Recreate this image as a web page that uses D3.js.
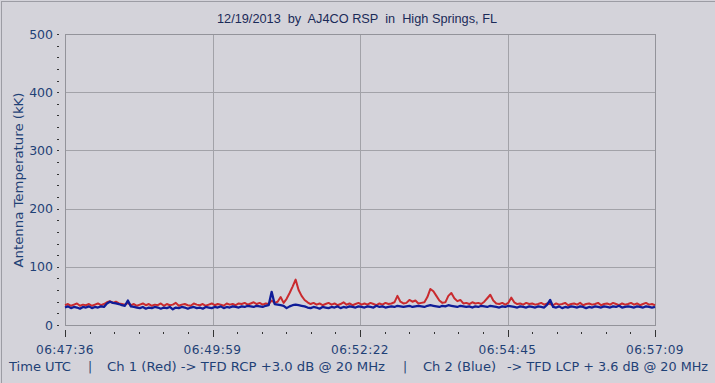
<!DOCTYPE html>
<html>
<head>
<meta charset="utf-8">
<script src="https://cdn.jsdelivr.net/npm/d3@7"></script>
<style>
  html, body { margin: 0; padding: 0; background: #d4d3da; }
  svg { display: block; }
</style>
</head>
<body>
<svg id="chart" width="715" height="383"></svg>
<script>
// ---- data ----
const title = "12/19/2013  by  AJ4CO RSP  in  High Springs, FL";
const yLabel = "Antenna Temperature (kK)";
const xTickLabels = ["06:47:36", "06:49:59", "06:52:22", "06:54:45", "06:57:09"];
const yTickValues = [0, 100, 200, 300, 400, 500];
const startTime = "06:47:36";
const endTime = "06:57:09";
const footer = ["Time UTC", "|", "Ch 1 (Red) -> TFD RCP +3.0 dB @ 20 MHz", "|", "Ch 2 (Blue)", "-> TFD LCP + 3.6 dB @ 20 MHz"];

const redValues = [
  34,36,33,35,37,33,35,34,36,33,
  35,37,34,36,39,41,38,40,37,36,
  35,38,34,36,33,35,37,34,36,33,
  35,34,37,33,36,34,35,38,33,35,
  36,34,33,37,35,34,36,33,35,37,
  34,36,35,33,37,35,36,34,37,36,
  38,35,37,39,36,38,35,37,36,42,
  38,40,48,38,45,55,66,78,60,50,
  43,39,36,38,35,37,34,36,38,35,
  37,34,36,39,35,37,34,36,38,35,
  37,35,38,36,34,37,35,38,36,37,
  39,50,40,37,38,43,40,42,37,38,
  39,48,62,58,50,42,38,39,50,55,
  46,41,43,37,38,36,39,37,38,36,
  40,46,52,42,37,36,38,35,38,47,
  39,36,37,35,38,36,37,35,36,38,
  35,37,36,34,37,35,36,38,34,36,
  37,35,38,34,36,37,35,36,38,34,
  36,37,35,38,36,34,37,35,36,38,
  35,37,34,36,38,35,36,34
];
const blueValues = [
  30,32,29,31,30,28,31,30,32,29,
  31,30,32,31,37,40,38,37,36,34,
  33,42,32,31,30,29,31,28,30,29,
  31,30,28,30,29,31,27,30,29,31,
  30,28,30,31,29,30,28,31,30,29,
  31,30,32,29,31,30,32,31,30,32,
  31,33,32,31,33,32,31,33,34,57,
  36,35,34,33,29,32,34,35,34,33,
  32,30,29,31,30,28,31,30,29,31,
  30,32,29,31,30,32,31,30,32,31,
  30,32,31,30,33,31,32,30,31,32,
  31,33,32,31,32,33,31,32,33,32,
  31,33,34,33,32,31,33,32,34,33,
  32,31,33,32,31,32,30,32,31,33,
  32,31,33,32,31,30,32,31,33,32,
  31,30,32,31,30,32,31,30,32,31,
  30,35,43,31,30,32,29,31,30,32,
  31,30,32,31,29,31,30,32,31,30,
  32,31,30,32,31,33,30,31,32,31,
  30,32,31,30,32,31,30,31
];

// ---- layout ----
const svg = d3.select("#chart");
const W = 715, H = 383;
const m = { left: 65, right: 655, top: 34, bottom: 325 };

const parse = d3.timeParse("%H:%M:%S");
const t0 = parse(startTime), t1 = parse(endTime);
const n = redValues.length;
const times = d3.range(n).map(i => new Date(+t0 + (t1 - t0) * i / (n - 1)));

const x = d3.scaleTime().domain([t0, t1]).range([m.left, m.right]);
const y = d3.scaleLinear().domain([0, 500]).range([m.bottom, m.top]);

// outer frame
svg.append("rect").attr("x", 0).attr("y", 0).attr("width", W).attr("height", H).attr("fill", "#d4d3da");
svg.append("line").attr("x1", 1.5).attr("x2", 1.5).attr("y1", 1).attr("y2", H).attr("stroke", "#9c9ca4");
svg.append("line").attr("x1", 1).attr("x2", W).attr("y1", 1.5).attr("y2", 1.5).attr("stroke", "#9c9ca4");

// gridlines
const xMajor = d3.range(5).map(i => new Date(+t0 + (t1 - t0) * i / 4));
const gridColor = "#a2a2a8";
svg.append("g").selectAll("line").data(xMajor.slice(1, 4)).join("line")
  .attr("x1", d => Math.round(x(d)) + 0.5).attr("x2", d => Math.round(x(d)) + 0.5)
  .attr("y1", m.top).attr("y2", m.bottom).attr("stroke", gridColor);
svg.append("g").selectAll("line").data([100, 200, 300, 400]).join("line")
  .attr("x1", m.left).attr("x2", m.right)
  .attr("y1", d => Math.round(y(d)) + 0.5).attr("y2", d => Math.round(y(d)) + 0.5).attr("stroke", gridColor);

// plot border
svg.append("rect").attr("x", m.left + 0.5).attr("y", m.top + 0.5)
  .attr("width", m.right - m.left).attr("height", m.bottom - m.top)
  .attr("fill", "none").attr("stroke", "#93939a");

// series
const line = vals => d3.line().x((d, i) => x(times[i])).y(d => y(d))(vals);
svg.append("path").attr("d", line(redValues)).attr("fill", "none")
  .attr("stroke", "#c92a2e").attr("stroke-width", 2).attr("stroke-linejoin", "round");
svg.append("path").attr("d", line(blueValues)).attr("fill", "none")
  .attr("stroke", "#0f1c98").attr("stroke-width", 2.3).attr("stroke-linejoin", "round");

// y axis ticks & labels
const textColor = "#1f4176";
const yMinor = d3.range(0, 501, 20);
svg.append("g").selectAll("line").data(yMinor).join("line")
  .attr("x1", 57).attr("x2", 59)
  .attr("y1", d => Math.round(y(d)) + 0.5).attr("y2", d => Math.round(y(d)) + 0.5)
  .attr("stroke", "#333");
svg.append("g").selectAll("text").data(yTickValues).join("text")
  .attr("x", 53).attr("y", d => y(d) + 4.5)
  .attr("text-anchor", "end")
  .attr("font-family", "DejaVu Sans, Verdana, sans-serif").attr("font-size", 12.5)
  .attr("fill", textColor).text(d => d);

// x axis ticks & labels
const xMinorTicks = d3.range(25).map(i => new Date(+t0 + (t1 - t0) * i / 24));
svg.append("g").selectAll("line").data(xMinorTicks).join("line")
  .attr("x1", d => Math.round(x(d)) + 0.5).attr("x2", d => Math.round(x(d)) + 0.5)
  .attr("y1", (d, i) => i % 6 === 0 ? 330 : 332)
  .attr("y2", (d, i) => i % 6 === 0 ? 337 : 334)
  .attr("stroke", "#333");
svg.append("g").selectAll("text").data(xMajor).join("text")
  .attr("x", d => x(d)).attr("y", 354)
  .attr("text-anchor", "middle")
  .attr("font-family", "DejaVu Sans, Verdana, sans-serif").attr("font-size", 12.2)
  .attr("letter-spacing", 0.4)
  .attr("fill", textColor).text((d, i) => xTickLabels[i]);

// y axis label
svg.append("text")
  .attr("transform", "translate(23,180) rotate(-90)")
  .attr("text-anchor", "middle")
  .attr("font-family", "DejaVu Sans, Verdana, sans-serif").attr("font-size", 12)
  .attr("textLength", 175).attr("lengthAdjust", "spacingAndGlyphs")
  .attr("fill", textColor).text(yLabel);

// title
svg.append("text").attr("x", 217).attr("y", 23)
  .attr("font-family", "Liberation Sans, Arial, sans-serif").attr("font-size", 12)
  .attr("textLength", 280).attr("lengthAdjust", "spacingAndGlyphs")
  .attr("xml:space", "preserve").style("white-space", "pre")
  .attr("fill", "#1a2a58").text(title);

// footer
const footerPos = [[9, 62], [88, 0], [107, 278], [403, 0], [423, 73], [507, 201]];
svg.append("g").selectAll("text").data(footer).join("text")
  .attr("x", (d, i) => footerPos[i][0]).attr("y", 371)
  .attr("font-family", "DejaVu Sans, Verdana, sans-serif").attr("font-size", 12.2)
  .attr("fill", textColor)
  .each(function(d, i) {
    if (footerPos[i][1] > 0) d3.select(this).attr("textLength", footerPos[i][1]).attr("lengthAdjust", "spacingAndGlyphs");
  })
  .text(d => d);
</script>
</body>
</html>
